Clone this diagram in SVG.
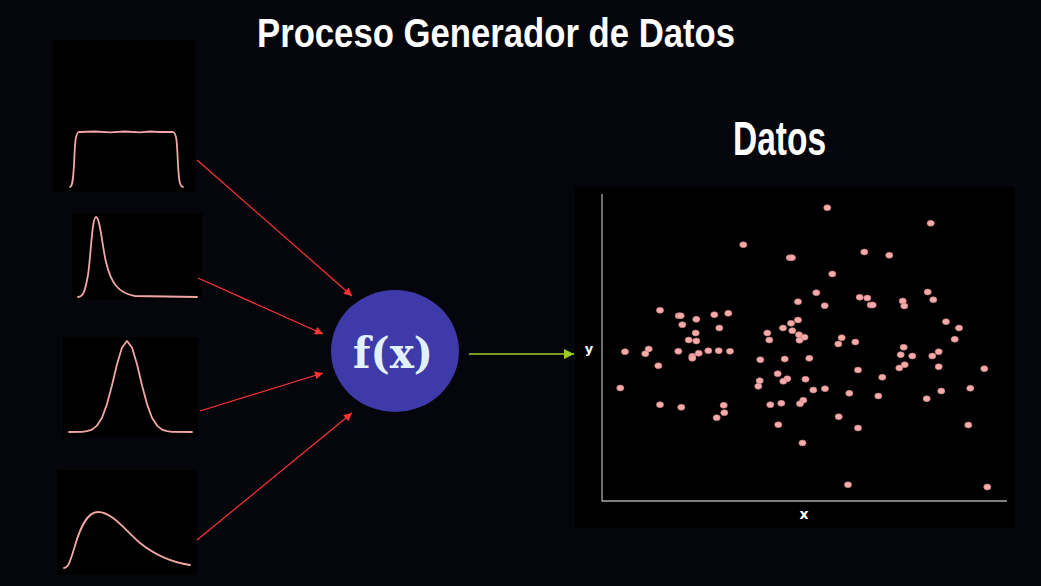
<svg xmlns="http://www.w3.org/2000/svg" width="1041" height="586" viewBox="0 0 1041 586">
<defs>
<style>
.panel{fill:#000}
.curve{fill:none;stroke:#f2a7a2;stroke-width:1.8;stroke-linejoin:round;stroke-linecap:round}
.red{stroke:#ff3333;stroke-width:1.2;fill:none}
.green{stroke:#9ccc2c;stroke-width:1.6;fill:none}
.axis{stroke:#a9a9a9;stroke-width:1.3;fill:none}
.pt{fill:#f6aaaa;stroke:#c57a7a;stroke-width:0.6}
.title{font-family:"Liberation Sans",Arial,sans-serif;font-weight:bold;fill:#fff}
.lbl{font-family:"DejaVu Sans",sans-serif;font-weight:bold;fill:#fff}
.fx{font-family:"DejaVu Serif","Liberation Serif",serif;font-weight:bold;font-size:42px;fill:#e2f1ff}
</style>
<marker id="ah-red" viewBox="0 0 10 10" refX="10" refY="5" markerWidth="11" markerHeight="8" markerUnits="userSpaceOnUse" orient="auto"><path d="M0,0 L10,5 L0,10 Z" fill="#ff3333"/></marker>
<marker id="ah-green" viewBox="0 0 10 10" refX="10" refY="5" markerWidth="11" markerHeight="10" markerUnits="userSpaceOnUse" orient="auto"><path d="M0,0 L10,5 L0,10 Z" fill="#9ccc2c"/></marker>
</defs>
<rect width="1041" height="586" fill="#05060c"/>
<text class="title" x="257" y="47" font-size="40" textLength="478" lengthAdjust="spacingAndGlyphs">Proceso Generador de Datos</text>

<g id="dist-uniform">
<rect class="panel" x="53" y="40" width="142" height="152"/>
<path class="curve" d="M70,187 C73,186 73,178 74,165 C75,145 75,133 79,132 L95,131.5 L110,132.3 L125,131.5 L140,132.3 L150,131.5 L160,132 L173,132 C177,133 177,145 178,165 C179,178 179,186 183,187"/>
</g>
<g id="dist-skewed">
<rect class="panel" x="72" y="213" width="130" height="87"/>
<path class="curve" d="M78,297 C83,297 85,292 88,275 C91,255 92,217 96,217 C100,217 102,245 106,262 C111,283 118,293 135,296 L197,297"/>
</g>
<g id="dist-normal">
<rect class="panel" x="63" y="337" width="135" height="100"/>
<path class="curve" d="M69,432 L82,431.8 L87,431.2 L92,429.6 L97,425.6 L102,417.7 L107,404.1 L112,385.2 L117,364.3 L122,347.5 L127,341 L132,347.5 L137,364.3 L142,385.2 L147,404.1 L152,417.7 L157,425.6 L162,429.6 L167,431.2 L172,431.8 L192,432"/>
</g>
<g id="dist-gamma">
<rect class="panel" x="57" y="470" width="140" height="105"/>
<path class="curve" d="M64,568 C68,568 70,562 74,549 C79,531 86,512 98,512 C112,512 125,530 140,543 C155,555 170,562 190,565"/>
</g>

<g id="connectors">
<line class="red" x1="197" y1="160" x2="352" y2="296" marker-end="url(#ah-red)"/>
<line class="red" x1="198" y1="278" x2="323" y2="334" marker-end="url(#ah-red)"/>
<line class="red" x1="200" y1="411" x2="323" y2="373" marker-end="url(#ah-red)"/>
<line class="red" x1="197" y1="540" x2="352" y2="413" marker-end="url(#ah-red)"/>
<line class="green" x1="469" y1="354" x2="574" y2="354" marker-end="url(#ah-green)"/>
</g>

<g id="fx">
<ellipse cx="395" cy="351" rx="64" ry="61" fill="#3e3aa9"/>
<text class="fx" x="353" y="368" textLength="80" lengthAdjust="spacingAndGlyphs">f(x)</text>
</g>

<g id="datos">
<text class="title" x="733" y="155" font-size="48" textLength="93" lengthAdjust="spacingAndGlyphs">Datos</text>
<rect class="panel" x="575" y="187" width="440" height="341"/>
<path class="axis" d="M602,194 L602,501 L1007,501"/>
<text class="lbl" x="589" y="353" font-size="13" text-anchor="middle">y</text>
<text class="lbl" x="804" y="519" font-size="14" text-anchor="middle">x</text>
<g id="points">
<ellipse class="pt" cx="743.3" cy="244.7" rx="3.6" ry="3"/>
<ellipse class="pt" cx="789.8" cy="257.7" rx="3.6" ry="3"/>
<ellipse class="pt" cx="792" cy="257.7" rx="3.6" ry="3"/>
<ellipse class="pt" cx="798" cy="301.7" rx="3.6" ry="3"/>
<ellipse class="pt" cx="660" cy="310.3" rx="3.6" ry="3"/>
<ellipse class="pt" cx="678.7" cy="315.7" rx="3.6" ry="3"/>
<ellipse class="pt" cx="680.7" cy="315.7" rx="3.6" ry="3"/>
<ellipse class="pt" cx="714.3" cy="314.7" rx="3.6" ry="3"/>
<ellipse class="pt" cx="728.3" cy="313.3" rx="3.6" ry="3"/>
<ellipse class="pt" cx="696.3" cy="319.3" rx="3.6" ry="3"/>
<ellipse class="pt" cx="682.3" cy="324.7" rx="3.6" ry="3"/>
<ellipse class="pt" cx="719.3" cy="328" rx="3.6" ry="3"/>
<ellipse class="pt" cx="798" cy="320" rx="3.6" ry="3"/>
<ellipse class="pt" cx="791" cy="323.3" rx="3.6" ry="3"/>
<ellipse class="pt" cx="783" cy="328" rx="3.6" ry="3"/>
<ellipse class="pt" cx="792.3" cy="330.7" rx="3.6" ry="3"/>
<ellipse class="pt" cx="767.3" cy="333" rx="3.6" ry="3"/>
<ellipse class="pt" cx="695.7" cy="333" rx="3.6" ry="3"/>
<ellipse class="pt" cx="799" cy="334.7" rx="3.6" ry="3"/>
<ellipse class="pt" cx="804.5" cy="337.2" rx="3.6" ry="3"/>
<ellipse class="pt" cx="688.7" cy="340" rx="3.6" ry="3"/>
<ellipse class="pt" cx="696.3" cy="341" rx="3.6" ry="3"/>
<ellipse class="pt" cx="769.3" cy="340" rx="3.6" ry="3"/>
<ellipse class="pt" cx="799.5" cy="340.3" rx="3.6" ry="3"/>
<ellipse class="pt" cx="648.7" cy="349" rx="3.6" ry="3"/>
<ellipse class="pt" cx="625" cy="351.7" rx="3.6" ry="3"/>
<ellipse class="pt" cx="645.3" cy="353.7" rx="3.6" ry="3"/>
<ellipse class="pt" cx="678.3" cy="351.3" rx="3.6" ry="3"/>
<ellipse class="pt" cx="698.7" cy="353.3" rx="3.6" ry="3"/>
<ellipse class="pt" cx="692.3" cy="356.3" rx="3.6" ry="3"/>
<ellipse class="pt" cx="692.3" cy="358.3" rx="3.6" ry="3"/>
<ellipse class="pt" cx="708.3" cy="350.7" rx="3.6" ry="3"/>
<ellipse class="pt" cx="718.7" cy="350.7" rx="3.6" ry="3"/>
<ellipse class="pt" cx="730" cy="351.3" rx="3.6" ry="3"/>
<ellipse class="pt" cx="760.3" cy="359.7" rx="3.6" ry="3"/>
<ellipse class="pt" cx="784.7" cy="359" rx="3.6" ry="3"/>
<ellipse class="pt" cx="658.3" cy="365.7" rx="3.6" ry="3"/>
<ellipse class="pt" cx="777.7" cy="373.7" rx="3.6" ry="3"/>
<ellipse class="pt" cx="787.3" cy="378.7" rx="3.6" ry="3"/>
<ellipse class="pt" cx="783.3" cy="381.3" rx="3.6" ry="3"/>
<ellipse class="pt" cx="805.5" cy="379.2" rx="3.6" ry="3"/>
<ellipse class="pt" cx="759.7" cy="380.7" rx="3.6" ry="3"/>
<ellipse class="pt" cx="758.3" cy="386.3" rx="3.6" ry="3"/>
<ellipse class="pt" cx="620.3" cy="388" rx="3.6" ry="3"/>
<ellipse class="pt" cx="660" cy="404.7" rx="3.6" ry="3"/>
<ellipse class="pt" cx="681.3" cy="407.3" rx="3.6" ry="3"/>
<ellipse class="pt" cx="723.7" cy="405.3" rx="3.6" ry="3"/>
<ellipse class="pt" cx="724.3" cy="412.7" rx="3.6" ry="3"/>
<ellipse class="pt" cx="716.7" cy="417.7" rx="3.6" ry="3"/>
<ellipse class="pt" cx="770.3" cy="404.7" rx="3.6" ry="3"/>
<ellipse class="pt" cx="781.3" cy="403.3" rx="3.6" ry="3"/>
<ellipse class="pt" cx="803.3" cy="400.2" rx="3.6" ry="3"/>
<ellipse class="pt" cx="800" cy="403.7" rx="3.6" ry="3"/>
<ellipse class="pt" cx="778.3" cy="424.7" rx="3.6" ry="3"/>
<ellipse class="pt" cx="802.5" cy="443" rx="3.6" ry="3"/>
<ellipse class="pt" cx="827.3" cy="207.7" rx="3.6" ry="3"/>
<ellipse class="pt" cx="930.7" cy="223.3" rx="3.6" ry="3"/>
<ellipse class="pt" cx="864.3" cy="252" rx="3.6" ry="3"/>
<ellipse class="pt" cx="889.3" cy="255.3" rx="3.6" ry="3"/>
<ellipse class="pt" cx="832.3" cy="274" rx="3.6" ry="3"/>
<ellipse class="pt" cx="816.3" cy="292.7" rx="3.6" ry="3"/>
<ellipse class="pt" cx="927.7" cy="292" rx="3.6" ry="3"/>
<ellipse class="pt" cx="859.7" cy="297.3" rx="3.6" ry="3"/>
<ellipse class="pt" cx="867.3" cy="298" rx="3.6" ry="3"/>
<ellipse class="pt" cx="870.7" cy="305" rx="3.6" ry="3"/>
<ellipse class="pt" cx="872.7" cy="305" rx="3.6" ry="3"/>
<ellipse class="pt" cx="902.7" cy="301" rx="3.6" ry="3"/>
<ellipse class="pt" cx="904.3" cy="306" rx="3.6" ry="3"/>
<ellipse class="pt" cx="933.3" cy="299.7" rx="3.6" ry="3"/>
<ellipse class="pt" cx="824.7" cy="305.7" rx="3.6" ry="3"/>
<ellipse class="pt" cx="946" cy="321.7" rx="3.6" ry="3"/>
<ellipse class="pt" cx="959" cy="328" rx="3.6" ry="3"/>
<ellipse class="pt" cx="954.7" cy="339.3" rx="3.6" ry="3"/>
<ellipse class="pt" cx="841.7" cy="337.7" rx="3.6" ry="3"/>
<ellipse class="pt" cx="838.3" cy="344" rx="3.6" ry="3"/>
<ellipse class="pt" cx="855.3" cy="342" rx="3.6" ry="3"/>
<ellipse class="pt" cx="903.7" cy="347.3" rx="3.6" ry="3"/>
<ellipse class="pt" cx="900.7" cy="354.7" rx="3.6" ry="3"/>
<ellipse class="pt" cx="912.3" cy="356" rx="3.6" ry="3"/>
<ellipse class="pt" cx="938.7" cy="351.7" rx="3.6" ry="3"/>
<ellipse class="pt" cx="932.3" cy="356" rx="3.6" ry="3"/>
<ellipse class="pt" cx="809.3" cy="358.3" rx="3.6" ry="3"/>
<ellipse class="pt" cx="904.7" cy="364.7" rx="3.6" ry="3"/>
<ellipse class="pt" cx="899.3" cy="368" rx="3.6" ry="3"/>
<ellipse class="pt" cx="938.7" cy="366.7" rx="3.6" ry="3"/>
<ellipse class="pt" cx="984.3" cy="368.7" rx="3.6" ry="3"/>
<ellipse class="pt" cx="858" cy="370" rx="3.6" ry="3"/>
<ellipse class="pt" cx="882.3" cy="377.3" rx="3.6" ry="3"/>
<ellipse class="pt" cx="813.3" cy="390" rx="3.6" ry="3"/>
<ellipse class="pt" cx="825" cy="388.7" rx="3.6" ry="3"/>
<ellipse class="pt" cx="970.3" cy="388.3" rx="3.6" ry="3"/>
<ellipse class="pt" cx="849.3" cy="393.3" rx="3.6" ry="3"/>
<ellipse class="pt" cx="941.3" cy="391" rx="3.6" ry="3"/>
<ellipse class="pt" cx="878.3" cy="396" rx="3.6" ry="3"/>
<ellipse class="pt" cx="926.7" cy="398.7" rx="3.6" ry="3"/>
<ellipse class="pt" cx="838.7" cy="416.7" rx="3.6" ry="3"/>
<ellipse class="pt" cx="858" cy="428" rx="3.6" ry="3"/>
<ellipse class="pt" cx="968.3" cy="425" rx="3.6" ry="3"/>
<ellipse class="pt" cx="848" cy="484.7" rx="3.6" ry="3"/>
<ellipse class="pt" cx="987.3" cy="487" rx="3.6" ry="3"/>
</g>
</g>
</svg>
